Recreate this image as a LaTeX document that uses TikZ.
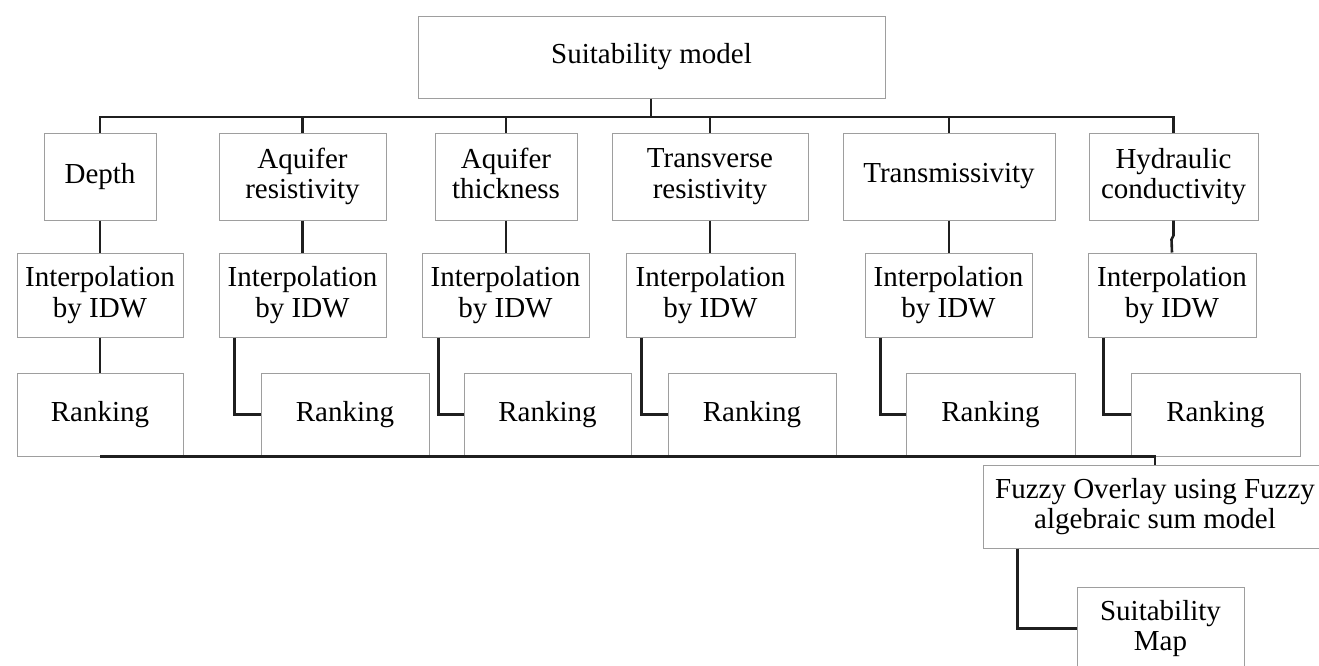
\documentclass[tikz,border=0pt]{standalone}
\usepackage{fontspec}
\setmainfont{Liberation Serif}
\begin{document}
\begin{tikzpicture}[x=0.5pt,y=-0.5pt,
  box/.style={draw=black!38, line width=0.5pt, fill=white, rectangle,
    inner sep=0pt, align=center, anchor=center,
    font=\fontsize{14.5}{15.3}\selectfont},
  conn/.style={draw=black!88, line width=1.3pt, line join=miter}]
\useasboundingbox (0,0) rectangle (1319,665);

% root
\node[box, minimum width=233.5pt, minimum height=41pt] (top) at (651.5,57) {Suitability model};

% parameters
\node[box, minimum width=56pt,   minimum height=43.5pt] (depth) at (100,176.5)    {Depth};
\node[box, minimum width=83.5pt, minimum height=43.5pt] (aqres) at (302.5,176.5)  {Aquifer\\resistivity};
\node[box, minimum width=71pt,   minimum height=43.5pt] (aqthk) at (506,176.5)    {Aquifer\\thickness\vphantom{y}};
\node[box, minimum width=98pt,   minimum height=43.5pt] (trres) at (710,176.5)    {Transverse\\resistivity};
\node[box, minimum width=106pt,  minimum height=43.5pt] (trans) at (949,176.5)    {Transmissivity};
\node[box, minimum width=84.5pt, minimum height=43.5pt] (hyd)   at (1173.5,176.5) {Hydraulic\\conductivity};

% interpolation
\node[box, minimum width=83pt,   minimum height=42pt] (ia) at (100,295)    {Interpolation\\by IDW};
\node[box, minimum width=83.5pt, minimum height=42pt] (ib) at (302.5,295)  {Interpolation\\by IDW};
\node[box, minimum width=83.5pt, minimum height=42pt] (ic) at (505.5,295)  {Interpolation\\by IDW};
\node[box, minimum width=84.5pt, minimum height=42pt] (id) at (710.5,295)  {Interpolation\\by IDW};
\node[box, minimum width=83.5pt, minimum height=42pt] (ie) at (948.5,295)  {Interpolation\\by IDW};
\node[box, minimum width=84pt,   minimum height=42pt] (if) at (1172,295)   {Interpolation\\by IDW};

% ranking
\node[box, minimum width=83pt,   minimum height=41.5pt] (ra) at (100,414.5)    {Ranking};
\node[box, minimum width=84pt,   minimum height=41.5pt] (rb) at (345,414.5)    {Ranking};
\node[box, minimum width=83.5pt, minimum height=41.5pt] (rc) at (547.5,414.5)  {Ranking};
\node[box, minimum width=84pt,   minimum height=41.5pt] (rd) at (752,414.5)    {Ranking};
\node[box, minimum width=84.5pt, minimum height=41.5pt] (re) at (990.5,414.5)  {Ranking};
\node[box, minimum width=84.5pt, minimum height=41.5pt] (rf) at (1215.5,414.5) {Ranking};

% overlay and result
\node[box, minimum width=172pt,  minimum height=41.5pt] (fuzzy) at (1155,506.5) {Fuzzy Overlay using Fuzzy\\algebraic sum model};
\node[box, minimum width=83.5pt, minimum height=41.5pt] (map)   at (1160.5,628.5) {Suitability\\Map};

% upper bus
\coordinate (busT) at (651,117);
\draw[conn] (top.south -| busT) -- (busT);
\draw[conn] (depth.north) -- (depth.north |- busT) -| (hyd.north);
\draw[conn] (aqres.north) -- (aqres.north |- busT);
\draw[conn] (aqthk.north) -- (aqthk.north |- busT);
\draw[conn] (trres.north) -- (trres.north |- busT);
\draw[conn] (trans.north) -- (trans.north |- busT);

% parameter to interpolation
\draw[conn] (depth.south) -- (ia.north);
\draw[conn] (aqres.south) -- (ib.north);
\draw[conn] (aqthk.south) -- (aqthk.south |- ic.north);
\draw[conn] (trres.south) -- (trres.south |- id.north);
\draw[conn] (trans.south) -- (trans.south |- ie.north);
\draw[conn] (hyd.south) -- ++(0,15) -- ++(-2,4) -- (if.north);

% interpolation to ranking
\draw[conn] (ia.south) -- (ra.north);
\draw[conn] ([xshift=8pt]ib.south west) |- (rb.west);
\draw[conn] ([xshift=8.5pt]ic.south west) |- (rc.west);
\draw[conn] ([xshift=8pt]id.south west) |- (rd.west);
\draw[conn] ([xshift=8pt]ie.south west) |- (re.west);
\draw[conn] ([xshift=8pt]if.south west) |- (rf.west);

% lower bus to overlay
\draw[conn] (ra.south) -- (ra.south -| fuzzy.north) -- (fuzzy.north);

% overlay to map
\draw[conn] ([xshift=17.5pt]fuzzy.south west) |- (map.west);
\end{tikzpicture}
\end{document}
